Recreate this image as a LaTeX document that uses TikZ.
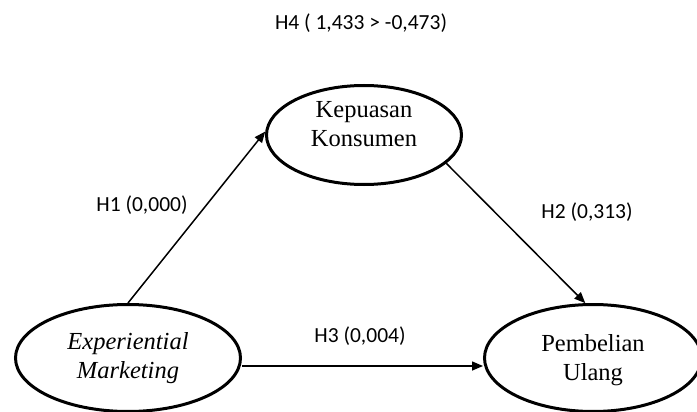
\documentclass[tikz,border=0pt]{standalone}
\usepackage{fontspec}
\setmainfont{Liberation Serif}
\newfontfamily\lblfont{Carlito}
\usetikzlibrary{arrows.meta,positioning,shapes.geometric}

\begin{document}
\begin{tikzpicture}[x=1pt, y=-1pt,
  vbox/.style={ellipse, draw=black, line width=3pt, inner sep=0pt},
  vtext/.style={align=center, inner sep=0pt,
                font=\fontsize{24.5}{29}\selectfont},
  hlbl/.style={inner sep=0pt, font=\lblfont\fontsize{21.5}{26}\selectfont},
  harr/.style={-{Triangle[length=11pt, width=9pt]}, line width=1.5pt}
]
\useasboundingbox (0,0) rectangle (697,412);

% Variables
\node[vbox, minimum width=225, minimum height=107] (em) at (128,358) {};
\node[vbox, minimum width=195, minimum height=99]  (kk) at (364,135) {};
\node[vbox, minimum width=217, minimum height=107] (pu) at (593,358) {};

\node[vtext, font=\fontsize{24.5}{29}\selectfont\itshape] (emt) at (128,358) {Experiential\\Marketing};
\node[vtext] (kkt) at (364,124) {Kepuasan\\Konsumen};
\node[vtext] (put) at (593,360) {Pembelian\\Ulang};

% Paths
\draw[harr] (em.north) -- (kk.178);
\draw[harr] (kk.-19)   -- (pu.98);
\draw[harr] ([yshift=-8]em.east) -- ([yshift=-8]pu.west);

% Hypotheses
\node[hlbl] (h1) at (142,205) {H1 (0,000)};
\node[hlbl] (h2) at (587,212) {H2 (0,313)};
\node[hlbl] (h3) at (360,336) {H3 (0,004)};
\node[hlbl] (h4) at (361,23)  {H4 ( 1,433 > -0,473)};
\end{tikzpicture}
\end{document}
